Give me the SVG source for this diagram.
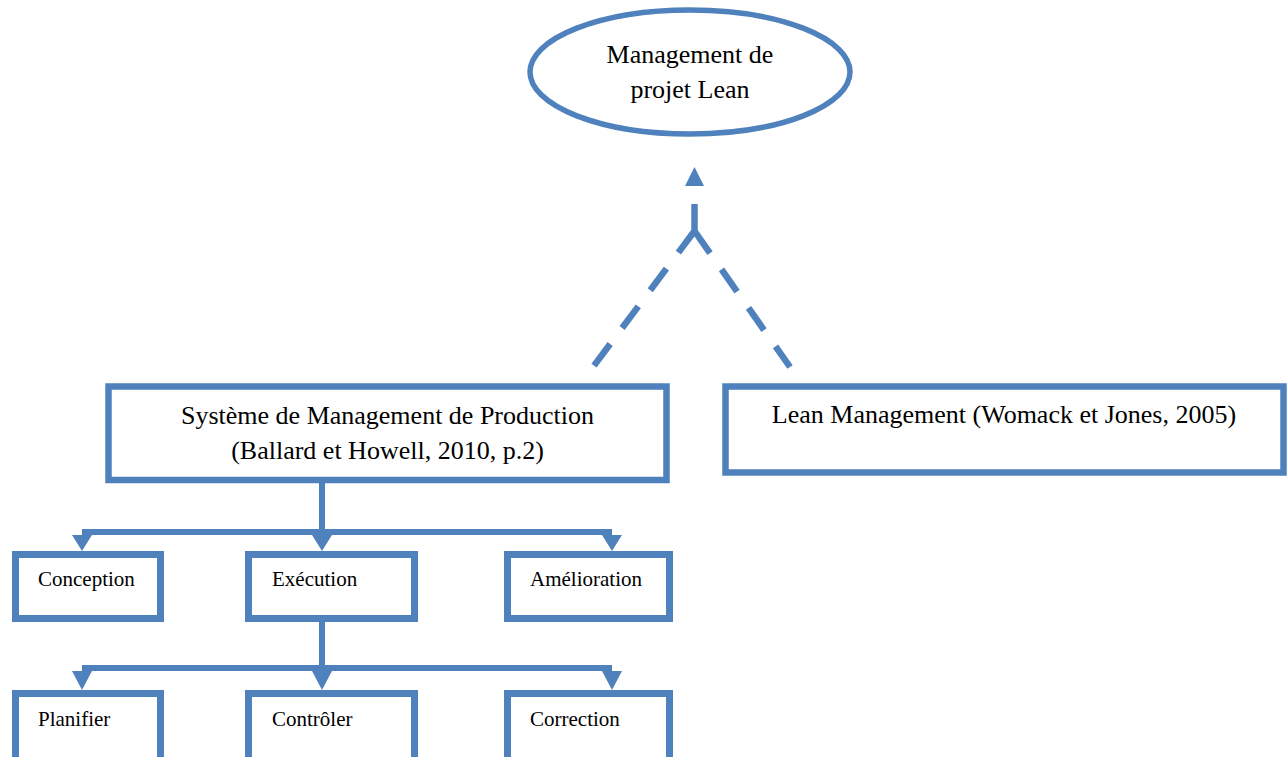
<svg xmlns="http://www.w3.org/2000/svg" width="1287" height="757" viewBox="0 0 1287 757">
<style>
.box{fill:#fff;stroke:#4F81BD;stroke-width:7}
.big{fill:#fff;stroke:#4F81BD;stroke-width:6.5}
.t{font-family:"Liberation Serif","Times New Roman",serif;fill:#000}
.lg{font-size:26px}
.sm{font-size:21px}
.ln{fill:none;stroke:#4F81BD;stroke-width:6}
.dash{fill:none;stroke:#4F81BD;stroke-width:6.5;stroke-dasharray:27 20}
.ah{fill:#4F81BD}
</style>
<rect width="1287" height="757" fill="#fff"/>
<g id="connectors">
<path class="dash" d="M694.5,231 L593,367"/>
<path class="dash" d="M694.5,231 L790,367"/>
<path class="dash" d="M694.5,231 L694.5,186"/>
<polygon class="ah" points="694.5,167 685,186 704,186"/>
<path class="ln" d="M322,483 L322,532 M82,532 L612,532"/>
<polygon class="ah" points="82,551 72,535 92,535"/>
<polygon class="ah" points="322,551 312,535 332,535"/>
<polygon class="ah" points="612,551 602,535 622,535"/>
<path class="ln" d="M322,621 L322,668 M82,668 L612,668"/>
<polygon class="ah" points="82,690 72,671 92,671"/>
<polygon class="ah" points="322,690 312,671 332,671"/>
<polygon class="ah" points="612,690 602,671 622,671"/>
</g>
<g id="lean-projet">
<ellipse cx="690" cy="72" rx="160" ry="62" fill="#fff" stroke="#4F81BD" stroke-width="5.5"/>
<text class="t lg" x="690" y="63" text-anchor="middle">Management de</text>
<text class="t lg" x="690" y="98" text-anchor="middle">projet Lean</text>
</g>
<g id="smp">
<rect class="big" x="108.5" y="386.5" width="558" height="93.5"/>
<text class="t lg" x="387.5" y="424" text-anchor="middle">Système de Management de Production</text>
<text class="t lg" x="387.5" y="459" text-anchor="middle">(Ballard et Howell, 2010, p.2)</text>
</g>
<g id="lean-management">
<rect class="big" x="725.5" y="386.5" width="558" height="86"/>
<text class="t lg" x="1004" y="423" text-anchor="middle">Lean Management (Womack et Jones, 2005)</text>
</g>
<g id="conception">
<rect class="box" x="15.5" y="554.5" width="145" height="64"/>
<text class="t sm" x="38" y="586">Conception</text>
</g>
<g id="execution">
<rect class="box" x="248.5" y="554.5" width="166" height="64"/>
<text class="t sm" x="272" y="586">Exécution</text>
</g>
<g id="amelioration">
<rect class="box" x="507.5" y="554.5" width="162" height="64"/>
<text class="t sm" x="530" y="586">Amélioration</text>
</g>
<g id="planifier">
<rect class="box" x="15.5" y="693.5" width="145" height="90"/>
<text class="t sm" x="38" y="726">Planifier</text>
</g>
<g id="controler">
<rect class="box" x="248.5" y="693.5" width="166" height="90"/>
<text class="t sm" x="272" y="726">Contrôler</text>
</g>
<g id="correction">
<rect class="box" x="507.5" y="693.5" width="162" height="90"/>
<text class="t sm" x="530" y="726">Correction</text>
</g>
</svg>
